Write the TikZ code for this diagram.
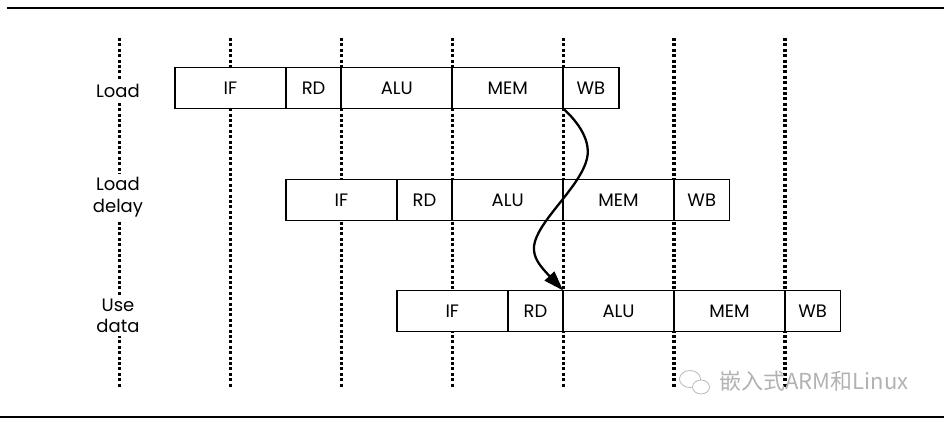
\documentclass[tikz,border=0pt]{standalone}
\usepackage{fontspec}
\setmainfont{Poppins}
\newfontfamily\cjk{Noto Sans CJK SC}
\usepackage{tikz}
\usetikzlibrary{arrows.meta,positioning}

\begin{document}
\begin{tikzpicture}[
  x=1pt, y=-1pt,
  font=\fontsize{18}{21.5}\selectfont,
  stage/.style={draw, line width=1.8pt, fill=white, minimum height=41pt, inner sep=0pt, outer sep=0pt},
  long/.style={stage, minimum width=110.9pt},
  short/.style={stage, minimum width=55.45pt},
  grid/.style={line width=3.2pt, dash pattern=on 3pt off 2.4pt},
  rule/.style={line width=1.6pt},
  lbl/.style={fill=white, align=center, inner sep=3pt},
  flow/.style={-{Triangle[length=20pt,width=13pt]}, line width=2.3pt}
]
\useasboundingbox (0,0) rectangle (944,425);

% --- frame rules and clock grid
\draw[rule] (7,8) -- (944,8);
\draw[rule] (0,417) -- (944,417);
\foreach \i in {0,...,6}
  \draw[grid] (119.5+\i*110.9,38) -- (119.5+\i*110.9,388);

% --- row labels
\node[lbl] (load) at (118,91) {Load};
\node[lbl] (delay) at (118,197) {Load\\delay};
\node[lbl] (use) at (118,316) {Use\\data};

% --- load instruction
\node[long, anchor=west] (if1) at (175,88) {IF};
\node[short, right=0pt of if1] (rd1) {RD};
\node[long, right=0pt of rd1] (alu1) {ALU};
\node[long, right=0pt of alu1] (mem1) {MEM};
\node[short, right=0pt of mem1] (wb1) {WB};

% --- load delay slot
\node[long, anchor=west] (if2) at (285.9,200) {IF};
\node[short, right=0pt of if2] (rd2) {RD};
\node[long, right=0pt of rd2] (alu2) {ALU};
\node[long, right=0pt of alu2] (mem2) {MEM};
\node[short, right=0pt of mem2] (wb2) {WB};

% --- use of loaded data
\node[long, anchor=west] (if3) at (396.8,311) {IF};
\node[short, right=0pt of if3] (rd3) {RD};
\node[long, right=0pt of rd3] (alu3) {ALU};
\node[long, right=0pt of alu3] (mem3) {MEM};
\node[short, right=0pt of mem3] (wb3) {WB};

% --- forwarding of the loaded value
\draw[flow] (wb1.south west) .. controls (578,122) and (593,142) .. (586,162)
  .. controls (577,190) and (537,222) .. (534,246)
  .. controls (533,258) and (540,266) .. (alu3.north west);

% --- watermark
\draw[gray!55, line width=0.8pt] (690,379) ellipse (10.5pt and 8.5pt);
\draw[gray!55, line width=0.8pt, fill=white] (701,387) ellipse (8.5pt and 7pt);
\node[text=gray!60, font=\cjk\fontsize{22}{25}\selectfont, anchor=west] (mark) at (716,381) {嵌入式ARM和Linux};
\end{tikzpicture}
\end{document}
